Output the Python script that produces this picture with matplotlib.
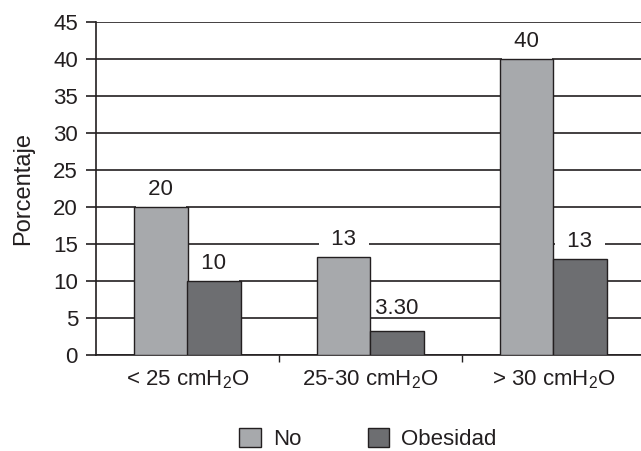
import matplotlib.pyplot as plt
import numpy as np

plt.rcParams['font.family'] = ['Liberation Sans', 'DejaVu Sans']
plt.rcParams['mathtext.default'] = 'regular'

groups = ['< 25 cmH$_2$O', '25-30 cmH$_2$O', '> 30 cmH$_2$O']
no_vals = [20, 13.3, 40]
obes_vals = [10, 3.3, 13]
no_labels = ['20', '13', '40']
obes_labels = ['10', '3.30', '13']

light = '#a7a9ac'
dark = '#6d6e71'
ink = '#231f20'

fig = plt.figure(figsize=(6.41, 4.51), dpi=100)
ax = fig.add_axes([96 / 641, 96 / 451, 549 / 641, 333 / 451])

x = np.arange(len(groups))
w = 0.29
b1 = ax.bar(x - w / 2, no_vals, w, color=light, edgecolor=ink, lw=1, zorder=3, label='No')
b2 = ax.bar(x + w / 2, obes_vals, w, color=dark, edgecolor=ink, lw=1, zorder=3, label='Obesidad')

# white box behind the numbers cuts the gridlines, bars stay on top
box = dict(facecolor='white', edgecolor='none', boxstyle='square,pad=0.3')
ax.bar_label(b1, labels=[' %s ' % s for s in no_labels], padding=5, fontsize=16,
             color=ink, bbox=box, zorder=2.5)
labs = ax.bar_label(b2, labels=[' %s ' % s for s in obes_labels], padding=5, fontsize=16,
                    color=ink, bbox=box, zorder=2.5)
labs[1].xyann = (0, 8)
labs[1].set_bbox(None)

ax.set_xlim(-0.5, 2.5)
ax.set_ylim(0, 45)
ax.set_yticks(range(0, 46, 5))
ax.grid(axis='y', color=ink, lw=1.2, zorder=0)
ax.set_axisbelow(True)

ax.set_xticks([0.5, 1.5])
ax.set_xticklabels([])
ax.set_xticks(x, minor=True)
ax.set_xticklabels(groups, minor=True)
ax.tick_params(axis='x', which='major', length=5, width=1, color=ink)
ax.tick_params(axis='x', which='minor', length=0, pad=10, labelsize=16, labelcolor=ink)
ax.tick_params(axis='y', length=7, width=1.2, color=ink, pad=6, labelsize=16, labelcolor=ink)

for s in ['top', 'right']:
    ax.spines[s].set_visible(False)
for s in ['left', 'bottom']:
    ax.spines[s].set_color(ink)
    ax.spines[s].set_linewidth(1.2)

ax.set_ylabel('Porcentaje', fontsize=17, color=ink, labelpad=14)

fig.legend(loc='center', bbox_to_anchor=(368 / 641, 1 - 439 / 451), ncol=2, frameon=False,
           fontsize=16, handlelength=0.95, handleheight=0.95, columnspacing=3.0,
           handletextpad=0.55, labelcolor=ink, borderpad=0.2)

fig.savefig('out.png', dpi=100)
